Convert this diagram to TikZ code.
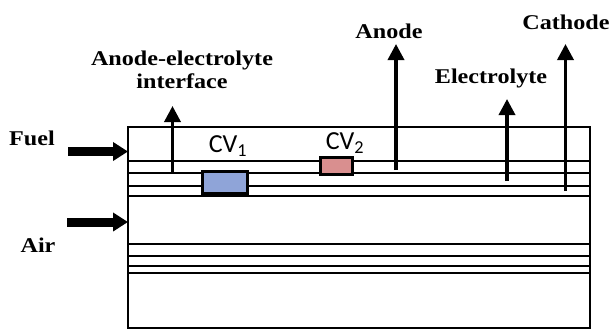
\documentclass[tikz,border=0pt]{standalone}
\usepackage{fontspec}
\newfontfamily\lblfont{Liberation Serif}[FakeStretch=1.15]
\newfontfamily\cvfont{Carlito}
\usetikzlibrary{arrows.meta}
\definecolor{cvblue}{HTML}{8FA4D8}
\definecolor{cvpink}{HTML}{D98F8F}
\tikzset{
  lbl/.style={font=\lblfont\bfseries\fontsize{21}{23}\selectfont, inner sep=0pt, align=center},
  cvlbl/.style={font=\cvfont\fontsize{26}{28}\selectfont, inner sep=0pt},
  layer/.style={line width=2pt},
  cvbox/.style={draw, line width=3pt, minimum width=#1, inner sep=0pt},
  uparrow/.style={line width=3.5pt, -{Triangle[width=16pt,length=16pt]}},
  inarrow/.style={line width=9pt, -{Triangle[width=18pt,length=15pt]}}
}
\begin{document}
\begin{tikzpicture}[x=1pt,y=-1pt]
\useasboundingbox[fill=white] (0,0) rectangle (612,330);
% cell outline and layers
\draw[line width=2pt] (128,127) rectangle (590,328);
\foreach \yy in {161,172.5,186,196,244,256,266,273}
  \draw[layer] (128,\yy) -- (590,\yy);
% control volumes
\node[cvbox=45pt, fill=cvblue, minimum height=22pt] (cv1) at (225,182) {};
\node[cvbox=32pt, fill=cvpink, minimum height=17pt] (cv2) at (336,166) {};
\node[cvlbl] (cv1l) at (228,146) {CV\textsubscript{1}};
\node[cvlbl] (cv2l) at (345,143) {CV\textsubscript{2}};
% labels
\node[lbl] (fuel) at (32,138) {Fuel};
\node[lbl] (air) at (38,245) {Air};
\node[lbl] (aei) at (182,70) {Anode-electrolyte\\interface};
\node[lbl] (anode) at (389,31) {Anode};
\node[lbl] (electro) at (491,78) {Electrolyte};
\node[lbl] (cathode) at (566,22) {Cathode};
% arrow anchor points
\coordinate (fuels) at (68,151.5);
\coordinate (fuele) at (128,151.5);
\coordinate (airs) at (67,222);
\coordinate (aire) at (128,222);
\coordinate (aeib) at (172.5,173);
\coordinate (aeit) at (172.5,106);
\coordinate (anb) at (396,170);
\coordinate (ant) at (396,44);
\coordinate (elb) at (507,181);
\coordinate (elt) at (507,99);
\coordinate (cab) at (565.5,191);
\coordinate (cat) at (565.5,44);
% arrows
\draw[inarrow] (fuels) -- (fuele);
\draw[inarrow] (airs) -- (aire);
\draw[uparrow] (aeib) -- (aeit);
\draw[uparrow] (anb) -- (ant);
\draw[uparrow] (elb) -- (elt);
\draw[uparrow] (cab) -- (cat);
\end{tikzpicture}
\end{document}
